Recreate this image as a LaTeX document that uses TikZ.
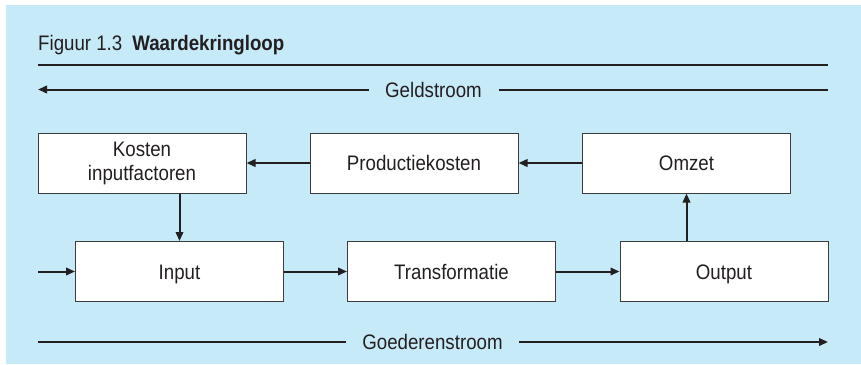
\documentclass[tikz,border=0pt]{standalone}
\usepackage{fontspec}
\setmainfont{Liberation Sans}[FakeStretch=0.89]
\usetikzlibrary{arrows.meta}

\definecolor{panel}{RGB}{199,234,249}
\definecolor{ink}{RGB}{35,31,32}
\definecolor{boxline}{RGB}{60,60,60}

\tikzset{
  boxbase/.style={draw=boxline, line width=1pt, fill=white, minimum width=208pt,
    minimum height=60pt, inner sep=0pt, align=center, text=ink,
    font=\fontsize{21}{24}\selectfont},
  flowbox/.style={boxbase, text height=15pt, text depth=0pt},
  flowarrow/.style={draw=ink, line width=2pt, -{Triangle[length=9pt,width=7.5pt]}},
  flowline/.style={draw=ink, line width=2pt},
  streamlabel/.style={text=ink, font=\fontsize{21}{24}\selectfont, inner ysep=0pt,
    inner xsep=16.5pt, text height=15pt, text depth=0pt},
}

\begin{document}
\begin{tikzpicture}[x=1pt, y=-1pt]
  % page and panel
  \useasboundingbox (0,0) rectangle (861,364);
  \fill[white] (0,0) rectangle (861,364);
  \fill[panel] (6,5) rectangle (861,364);

  % caption and rule
  \node[anchor=base west, inner sep=0pt, text=ink, font=\fontsize{21}{24}\selectfont]
    (caption) at (38,50) {Figuur 1.3\hspace{10pt}\textbf{Waardekringloop}};
  \coordinate (ruleL) at (38,65);
  \coordinate (ruleR) at (828,65);
  \draw[flowline] (ruleL) -- (ruleR);

  % money flow
  \node[streamlabel] (geld) at (433.5,89.5) {Geldstroom};
  \coordinate (geldL) at (38,89.5);
  \coordinate (geldR) at (828,89.5);
  \draw[flowarrow] (geld.west) -- (geldL);
  \draw[flowline] (geld.east) -- (geldR);

  % top row
  \node[boxbase] (kosten) at (142,163) {Kosten\\inputfactoren};
  \node[flowbox] (prod) at (414,163) {Productiekosten};
  \node[flowbox] (omzet) at (686.5,163) {Omzet};

  % bottom row
  \node[flowbox] (input) at (179.5,271.5) {Input};
  \node[flowbox] (trans) at (451.5,271.5) {Transformatie};
  \node[flowbox] (output) at (724,271.5) {Output};

  % connectors
  \draw[flowarrow] (omzet.west) -- (prod.east);
  \draw[flowarrow] (prod.west) -- (kosten.east);
  \draw[flowarrow] (input.north |- kosten.south) -- (input.north);
  \draw[flowarrow] (omzet.south |- output.north) -- (omzet.south);
  \coordinate (inflow) at (38,271.5);
  \draw[flowarrow] (inflow) -- (input.west);
  \draw[flowarrow] (input.east) -- (trans.west);
  \draw[flowarrow] (trans.east) -- (output.west);

  % goods flow
  \node[streamlabel] (goed) at (432.5,342) {Goederenstroom};
  \coordinate (goedL) at (38,342);
  \coordinate (goedR) at (828,342);
  \draw[flowline] (goedL) -- (goed.west);
  \draw[flowarrow] (goed.east) -- (goedR);
\end{tikzpicture}
\end{document}
